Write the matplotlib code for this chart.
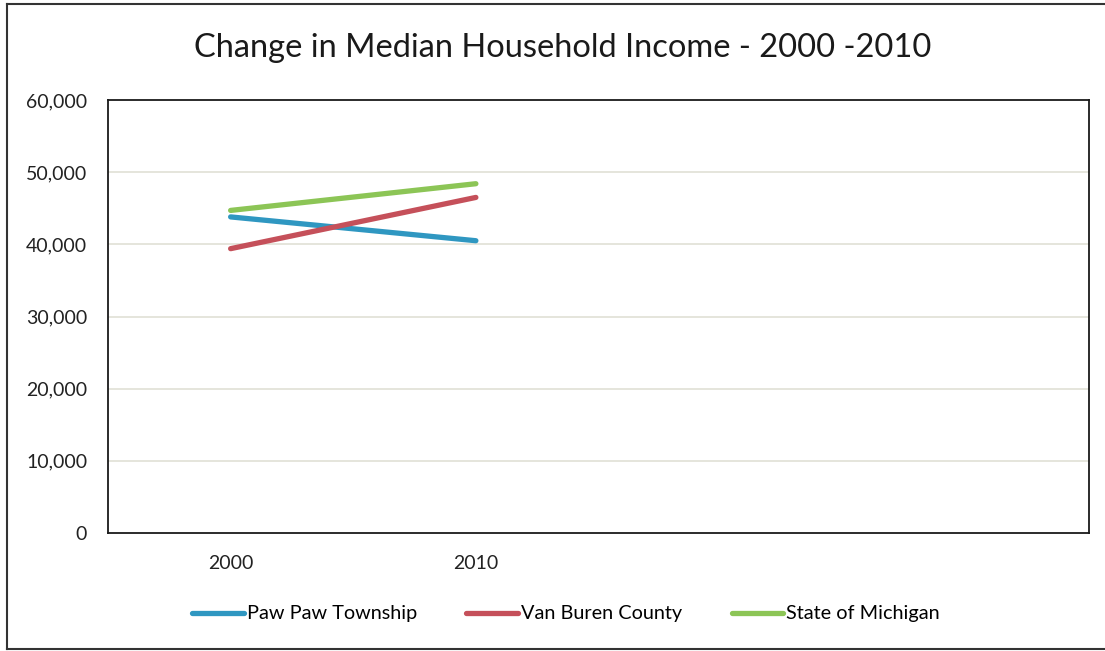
import matplotlib
matplotlib.use("Agg")
import matplotlib.pyplot as plt
from matplotlib.lines import Line2D
from matplotlib.ticker import FuncFormatter

plt.rcParams['font.family'] = ['Lato', 'DejaVu Sans']

# Category slots on the x axis (two years used, two empty slots)
categories = ["2000", "2010", "", ""]
years = ["2000", "2010"]

paw_paw = [43800, 40500]
van_buren = [39400, 46500]
michigan = [44700, 48400]

series_names = ["Paw Paw Township", "Van Buren County", "State of Michigan"]
series_values = [paw_paw, van_buren, michigan]
series_colors = ["#2f97c1", "#c5505a", "#8cc556"]

y_ticks = [0, 10000, 20000, 30000, 40000, 50000, 60000]

fig = plt.figure(figsize=(11.05, 6.51), dpi=100)
ax = fig.add_axes([108 / 1105, 1 - 533 / 651, (1089 - 108) / 1105, (533 - 100) / 651])

x_pos = list(range(len(years)))
for name, vals, col in zip(series_names, series_values, series_colors):
    ax.plot(x_pos, vals, color=col, lw=3.8, solid_capstyle='round', label=name, zorder=3)

ax.set_xlim(-0.5, len(categories) - 0.5)
ax.set_ylim(0, 60000)
ax.set_xticks(range(len(categories)))
ax.set_xticklabels(categories)
ax.set_yticks(y_ticks)
ax.yaxis.set_major_formatter(FuncFormatter(lambda v, p: f"{int(v):,}"))
ax.tick_params(axis='both', length=0, labelsize=14, colors='#222222')
ax.tick_params(axis='x', pad=16)
ax.tick_params(axis='y', pad=15)

for y in y_ticks[1:-1]:
    ax.axhline(y, color='#e0e0d6', lw=1.2, zorder=1)
for s in ax.spines.values():
    s.set_color('#1a1a1a')
    s.set_linewidth(1.3)

fig.text(563 / 1105, 1 - 48 / 651, "Change in Median Household Income - 2000 -2010",
         ha='center', va='center', fontsize=23.5, color='#1a1a1a')

handles = [Line2D([], [], color=c, lw=3.8, solid_capstyle='round') for c in series_colors]
fig.legend(handles, series_names, loc='center', bbox_to_anchor=(566 / 1105, 1 - 614 / 651),
           ncol=3, frameon=False, fontsize=14.3, handlelength=2.6, handletextpad=0.15,
           columnspacing=2.5)

# Outer chart frame
for xs, ys in [([7, 7], [4, 649]), ([7, 1105], [4, 4]), ([7, 1105], [649, 649])]:
    fig.add_artist(Line2D([x / 1105 for x in xs], [1 - y / 651 for y in ys],
                          color='#333333', lw=1.5, transform=fig.transFigure))

fig.savefig("out.png", dpi=100, facecolor='white')
